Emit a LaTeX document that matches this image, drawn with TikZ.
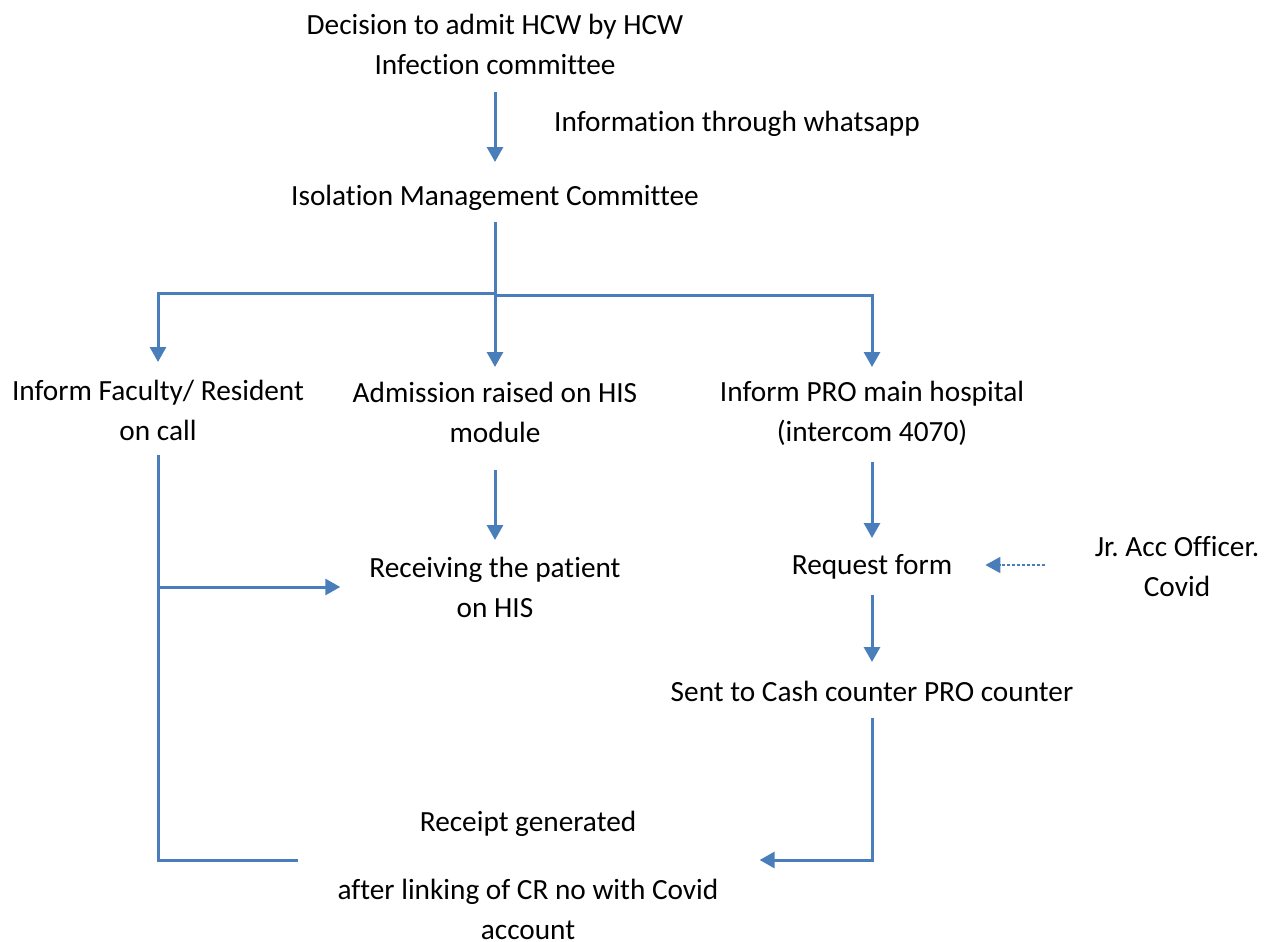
\documentclass[tikz,border=0pt]{standalone}
\usepackage{fontspec}
\setmainfont[Ligatures={NoCommon}]{Carlito}
\usetikzlibrary{arrows.meta,calc}
\definecolor{lineblue}{HTML}{4A7EBB}
\frenchspacing
\begin{document}
\begin{tikzpicture}[x=1pt,y=-1pt,
  font=\fontsize{29.3}{40}\selectfont,
  every node/.style={inner sep=0pt, align=center},
  link/.style={draw=lineblue, line width=3pt},
  arr/.style={link, -{Triangle[width=16pt,length=15pt]}},
  dotarr/.style={draw=lineblue, line width=1.6pt, densely dashed, -{Triangle[width=16pt,length=15pt]}}]
\useasboundingbox (0,0) rectangle (1272,942);

\node (dec)  at (495,44)  {Decision to admit HCW by HCW\\Infection committee};
\node (info) at (737,124) {Information through whatsapp};
\node (iso)  at (495,198) {Isolation Management Committee};
\node (fac)  at (158,410) {Inform Faculty/ Resident\\on call};
\node (adm)  at (495,412) {Admission raised on HIS\\module};
\node (pro)  at (872,413) {Inform PRO main hospital\\(intercom 4070)};
\node (recv) at (495,587) {Receiving the patient\\on HIS};
\node (req)  at (872,567) {Request form};
\node (jr)   at (1177,567) {Jr. Acc Officer.\\Covid};
\node (cash) at (872,691) {Sent to Cash counter PRO counter};
\node (rec)  at (528,875) {Receipt generated\\[28pt]after linking of CR no with Covid\\account};

\coordinate (jrtail) at (1045,565);
\coordinate (leftend) at (298,860);

\draw[arr] (dec.south |- 0,92) -- (iso.north |- 0,162);
\draw[arr] (iso.south |- 0,222) -- (adm.north |- 0,367);
\draw[arr] (iso.south |- 0,293) -| (fac.north |- 0,362);
\draw[arr] (iso.south |- 0,295) -| (pro.north |- 0,367);
\draw[arr] (adm.south |- 0,470) -- (recv.north |- 0,540);
\draw[arr] (pro.south |- 0,462) -- (req.north |- 0,538);
\draw[arr] (req.south |- 0,595) -- (cash.north |- 0,662);
\draw[dotarr] (jrtail) -- ($(req.east)+(33,-2)$);
\draw[link] (fac.south |- 0,455) -- (fac.south |- 0,860) -- (leftend);
\draw[arr] (fac.south |- 0,587) -- ($(recv.west |- 0,587)+(-29,0)$);
\draw[arr] (cash.south |- 0,718) |- ($(rec.east |- 0,860)+(41,0)$);
\end{tikzpicture}
\end{document}
